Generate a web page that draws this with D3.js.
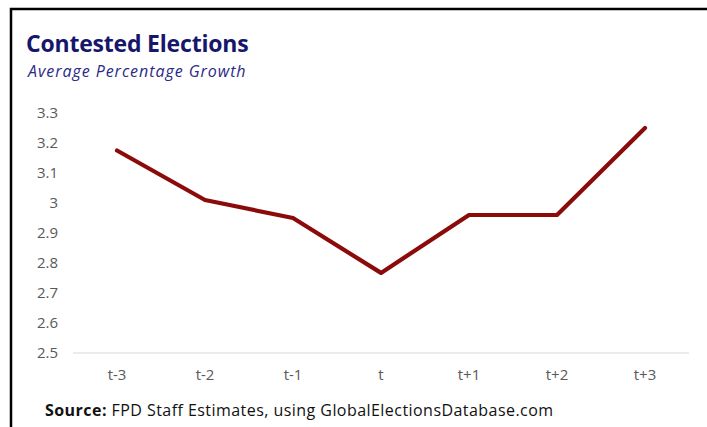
<!DOCTYPE html>
<html>
<head>
<meta charset="utf-8">
<script src="https://cdn.jsdelivr.net/npm/d3@7"></script>
<style>
  body { margin: 0; background: #fff; }
  text { font-family: "Open Sans", "Noto Sans", sans-serif; }
</style>
</head>
<body>
<div id="wrapper"></div>
<script>
// data
const periods = ["t-3", "t-2", "t-1", "t", "t+1", "t+2", "t+3"]
const growth = [3.175, 3.01, 2.95, 2.767, 2.96, 2.96, 3.25]
const yTicks = [2.5, 2.6, 2.7, 2.8, 2.9, 3, 3.1, 3.2, 3.3]

function drawLineChart() {
  const dataset = periods.map((p, i) => ({ period: p, value: growth[i] }))
  const xAccessor = d => d.period
  const yAccessor = d => d.value

  //dimensions
  let dimensions = {
    width: 707,
    height: 427,
    margin: { top: 113, right: 18, bottom: 74, left: 73 },
  }
  dimensions.boundedWidth = dimensions.width - dimensions.margin.left - dimensions.margin.right
  dimensions.boundedHeight = dimensions.height - dimensions.margin.top - dimensions.margin.bottom

  const wrapper = d3.select("#wrapper")
    .append("svg")
    .attr("width", dimensions.width)
    .attr("height", dimensions.height)

  // frame (top + left border)
  wrapper.append("path")
    .attr("d", "M11,427 L11,9 L707,9")
    .attr("fill", "none")
    .attr("stroke", "#000")
    .attr("stroke-width", 2.5)

  // title
  wrapper.append("text")
    .attr("x", 26)
    .attr("y", 52)
    .attr("fill", "#16166b")
    .style("font-size", "23px")
    .style("font-weight", "bold")
    .style("letter-spacing", "-0.2px")
    .text("Contested Elections")

  wrapper.append("text")
    .attr("x", 28)
    .attr("y", 77)
    .attr("fill", "#2a2a86")
    .style("font-size", "16px")
    .style("font-style", "italic")
    .style("letter-spacing", "0.95px")
    .text("Average Percentage Growth")

  const bounds = wrapper.append("g")
    .attr("transform", `translate(${dimensions.margin.left},${dimensions.margin.top})`)

  //scales
  const xScale = d3.scaleBand()
    .domain(periods)
    .range([0, dimensions.boundedWidth])

  const yScale = d3.scaleLinear()
    .domain([2.5, 3.3])
    .range([dimensions.boundedHeight, 0])

  // baseline
  bounds.append("line")
    .attr("x1", 0)
    .attr("x2", dimensions.boundedWidth)
    .attr("y1", yScale(2.5))
    .attr("y2", yScale(2.5))
    .attr("stroke", "#d9d9d9")
    .attr("stroke-width", 1)

  //line
  const lineGenerator = d3.line()
    .x(d => xScale(xAccessor(d)) + xScale.bandwidth() / 2)
    .y(d => yScale(yAccessor(d)))

  bounds.append("path")
    .attr("d", lineGenerator(dataset))
    .attr("fill", "none")
    .attr("stroke", "#8b0a0a")
    .attr("stroke-width", 4.2)
    .attr("stroke-linejoin", "round")
    .attr("stroke-linecap", "round")

  //axes
  const yAxisGenerator = d3.axisLeft()
    .scale(yScale)
    .tickValues(yTicks)
    .tickSize(0)
    .tickPadding(15)
    .tickFormat(d => d3.format("")(d))

  const yAxis = bounds.append("g").call(yAxisGenerator)
  yAxis.select(".domain").remove()
  yAxis.selectAll("text")
    .attr("fill", "#595959")
    .style("font-size", "15px")
    .style("font-family", "'Open Sans', sans-serif")

  const xAxisGenerator = d3.axisBottom()
    .scale(xScale)
    .tickSize(0)
    .tickPadding(16)

  const xAxis = bounds.append("g")
    .attr("transform", `translate(0,${dimensions.boundedHeight})`)
    .call(xAxisGenerator)
  xAxis.select(".domain").remove()
  xAxis.selectAll("text")
    .attr("fill", "#595959")
    .style("font-size", "15px")
    .style("font-family", "'Open Sans', sans-serif")

  // source note
  const source = wrapper.append("text")
    .attr("x", 45)
    .attr("y", 416)
    .attr("fill", "#111")
    .style("font-size", "16px")
    .style("letter-spacing", "0.45px")
  source.append("tspan").style("font-weight", "bold").text("Source:")
  source.append("tspan").text(" FPD Staff Estimates, using GlobalElectionsDatabase.com")
}
drawLineChart()
</script>
</body>
</html>
